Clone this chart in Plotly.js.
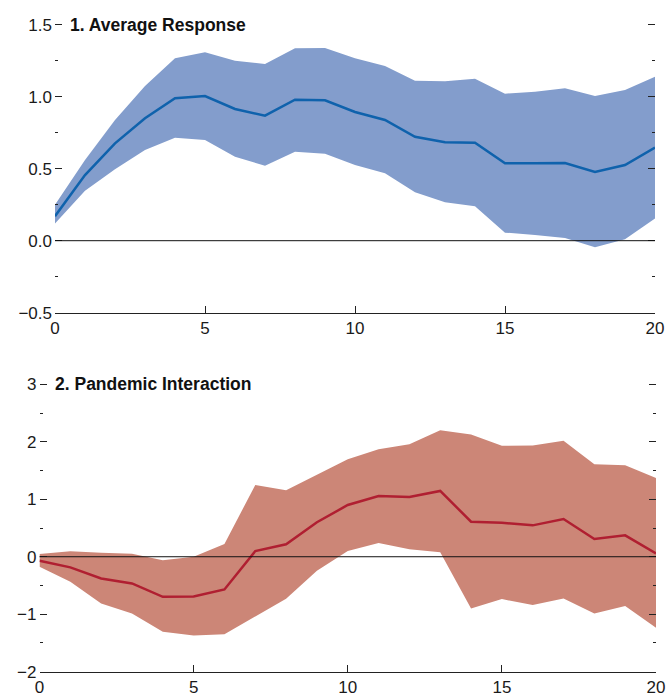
<!DOCTYPE html>
<html>
<head>
<meta charset="utf-8">
<script src="https://cdn.plot.ly/plotly-3.0.1.min.js"></script>
<style>
html,body{margin:0;padding:0;background:#fff;}
#chart{width:667px;height:698px;}
</style>
</head>
<body>
<div id="chart"></div>
<script>
// Horizons (x values)
var horizon = [0,1,2,3,4,5,6,7,8,9,10,11,12,13,14,15,16,17,18,19,20];

// Panel 1: Average Response
var avgMean  = [0.17,0.456,0.676,0.85,0.989,1.005,0.915,0.868,0.979,0.975,0.894,0.838,0.722,0.683,0.681,0.537,0.537,0.54,0.477,0.526,0.646];
var avgUpper = [0.25,0.56,0.838,1.074,1.267,1.308,1.25,1.227,1.336,1.338,1.267,1.213,1.111,1.107,1.125,1.021,1.035,1.058,1.005,1.047,1.139];
var avgLower = [0.12,0.347,0.496,0.63,0.715,0.699,0.583,0.521,0.618,0.604,0.526,0.468,0.336,0.267,0.239,0.056,0.04,0.019,-0.046,0.01,0.155];

// Panel 2: Pandemic Interaction
var panMean  = [-0.07,-0.185,-0.377,-0.464,-0.697,-0.69,-0.569,0.099,0.216,0.6,0.9,1.057,1.04,1.145,0.61,0.592,0.546,0.657,0.308,0.372,0.059];
var panUpper = [0.047,0.094,0.07,0.052,-0.063,0.0,0.221,1.249,1.157,1.42,1.697,1.871,1.958,2.202,2.126,1.929,1.935,2.016,1.61,1.592,1.371];
var panLower = [-0.174,-0.435,-0.812,-0.986,-1.307,-1.37,-1.347,-1.045,-0.732,-0.244,0.099,0.239,0.129,0.077,-0.899,-0.737,-0.841,-0.725,-0.986,-0.859,-1.237];

var titles = ["1. Average Response", "2. Pandemic Interaction"];
var xTicks = [0,5,10,15,20];

var FONT = "Liberation Sans, Arial, sans-serif";
var W = 667, H = 698;

var blueBand = "#839dcc", blueLine = "#0f62ac";
var redBand = "#cc8677", redLine = "#b01f31";

var traces = [
  {x: horizon, y: avgLower, xaxis:'x', yaxis:'y', mode:'lines', line:{width:0, color:blueBand}, hoverinfo:'skip', showlegend:false},
  {x: horizon, y: avgUpper, xaxis:'x', yaxis:'y', mode:'lines', line:{width:0, color:blueBand}, fill:'tonexty', fillcolor:blueBand, hoverinfo:'skip', showlegend:false},
  {x: horizon, y: avgMean, xaxis:'x', yaxis:'y', mode:'lines', line:{width:2.5, color:blueLine}, showlegend:false},
  {x: horizon, y: panLower, xaxis:'x2', yaxis:'y2', mode:'lines', line:{width:0, color:redBand}, hoverinfo:'skip', showlegend:false},
  {x: horizon, y: panUpper, xaxis:'x2', yaxis:'y2', mode:'lines', line:{width:0, color:redBand}, fill:'tonexty', fillcolor:redBand, hoverinfo:'skip', showlegend:false},
  {x: horizon, y: panMean, xaxis:'x2', yaxis:'y2', mode:'lines', line:{width:2.5, color:redLine}, showlegend:false}
];

function xax(domain, anchor){
  return {
    domain: domain, anchor: anchor, range:[0,20],
    tickvals: xTicks, ticktext: xTicks.map(String),
    ticks:'inside', ticklen:7, tickwidth:1, tickcolor:'#222',
    showline:true, linecolor:'#222', linewidth:1,
    showgrid:false, zeroline:false,
    tickfont:{family:FONT, size:17, color:'#1a1a1a'},
    fixedrange:true
  };
}
function yax(domain, anchor, range, dtick, minorDtick, fmt){
  return {
    domain: domain, anchor: anchor, range: range,
    dtick: dtick, tick0: 0, tickformat: fmt,
    ticks:'inside', ticklen:7, tickwidth:1, tickcolor:'#222',
    mirror:'ticks', showline:false,
    minor:{dtick:minorDtick, tick0:0, ticks:'inside', ticklen:3, tickwidth:1, tickcolor:'#222', showgrid:false},
    showgrid:false, zeroline:false,
    tickfont:{family:FONT, size:17, color:'#1a1a1a'},
    ticklabelstandoff: 2,
    fixedrange:true
  };
}

// small padding above the top tick so the edge tick mark is drawn
var pad1 = 0.015, pad2 = 0.04;
var top1 = 24.7 - pad1*144, top2 = 384.3 - pad2*57.4;

var layout = {
  width: W, height: H,
  margin:{l:0, r:0, t:0, b:0},
  paper_bgcolor:'#fff', plot_bgcolor:'rgba(0,0,0,0)',
  showlegend:false,
  xaxis: xax([55/W, 655/W], 'y'),
  yaxis: yax([1-312.7/H, 1-top1/H], 'x', [-0.5,1.5+pad1], 0.5, 0.25, '.1f'),
  xaxis2: xax([39.5/W, 656/W], 'y2'),
  yaxis2: yax([1-671.7/H, 1-top2/H], 'x2', [-2,3+pad2], 1, 0.5, 'd'),
  shapes: [
    {type:'line', xref:'x domain', yref:'y', x0:0, x1:1, y0:0, y1:0, line:{color:'#111', width:1}, layer:'above'},
    {type:'line', xref:'x2 domain', yref:'y2', x0:0, x1:1, y0:0, y1:0, line:{color:'#111', width:1}, layer:'above'}
  ],
  annotations: [
    {text:'<b>'+titles[0]+'</b>', xref:'paper', yref:'paper', x:68/W, y:1-24.7/H, xanchor:'left', yanchor:'middle', showarrow:false, font:{family:FONT, size:17.5, color:'#111'}},
    {text:'<b>'+titles[1]+'</b>', xref:'paper', yref:'paper', x:52.5/W, y:1-384.3/H, xanchor:'left', yanchor:'middle', showarrow:false, font:{family:FONT, size:17.5, color:'#111'}}
  ]
};

Plotly.newPlot('chart', traces, layout, {displayModeBar:false, staticPlot:true});
</script>
</body>
</html>
